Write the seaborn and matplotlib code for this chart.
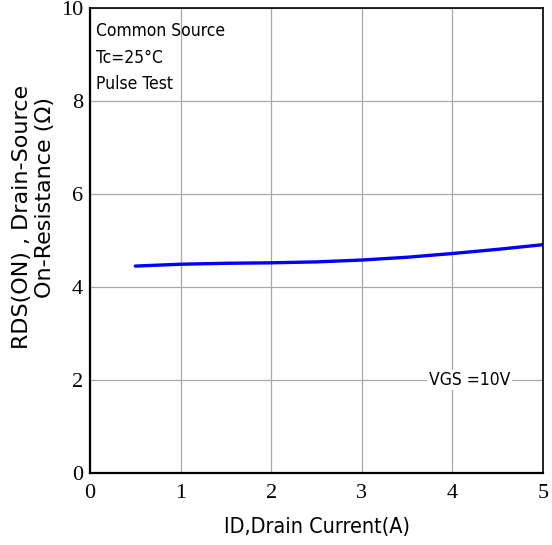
import matplotlib
matplotlib.use("Agg")
import matplotlib.pyplot as plt
import seaborn as sns
import pandas as pd

# drain current (A) and on-resistance (ohm)
drain_current = [0.5, 1.0, 1.5, 2.0, 2.5, 3.0, 3.5, 4.0, 4.5, 5.0]
rds_on = [4.45, 4.49, 4.51, 4.52, 4.54, 4.58, 4.64, 4.72, 4.81, 4.91]
x_ticks = [0, 1, 2, 3, 4, 5]
y_ticks = [0, 2, 4, 6, 8, 10]

df = pd.DataFrame({"ID": drain_current, "RDS": rds_on})

sns.set_style("white")
plt.rcParams['font.family'] = ['DejaVu Sans']
plt.rcParams['font.stretch'] = 'condensed'
plt.rcParams['text.color'] = 'black'
plt.rcParams['axes.labelcolor'] = 'black'
plt.rcParams['xtick.color'] = 'black'
plt.rcParams['ytick.color'] = 'black'

fig = plt.figure(figsize=(5.52, 5.45), dpi=100)
ax = fig.add_axes([90 / 552, 72 / 545, 453 / 552, 465 / 545])

sns.lineplot(data=df, x="ID", y="RDS", ax=ax, color="#0000ff", linewidth=2.4)

ax.set_xlim(0, 5)
ax.set_ylim(0, 10)
ax.set_xticks(x_ticks)
ax.set_yticks(y_ticks)
ax.set_xticklabels([str(t) for t in x_ticks], family="Liberation Serif", fontsize=16)
ax.set_yticklabels([str(t) for t in y_ticks], family="Liberation Serif", fontsize=16)
ax.tick_params(axis="x", length=0, pad=8)
ax.tick_params(axis="y", length=0, pad=5)
ax.grid(True, color="#a8a8a8", linewidth=0.9)

for side in ["left", "bottom"]:
    ax.spines[side].set_linewidth(1.6)
for side in ["top", "right"]:
    ax.spines[side].set_linewidth(1.2)
for s in ax.spines.values():
    s.set_color("black")

ax.set_xlabel("ID,Drain Current(A)", fontsize=15.5, labelpad=10)
ax.set_ylabel("")

# two-line y label, drawn line by line like the original
fig.text(22 / 552, 1 - 217 / 545, "RDS(ON) , Drain-Source", rotation=90,
         fontsize=16, fontstretch="normal", ha="center", va="center")
fig.text(45 / 552, 1 - 198 / 545, "On-Resistance (Ω)", rotation=90,
         fontsize=16, fontstretch="normal", ha="center", va="center")

ax.text(0.07, 9.7, "Common Source\nTc=25°C\nPulse Test", fontsize=12.5,
        va="top", ha="left", linespacing=1.62)
ax.text(3.74, 2.0, "VGS =10V", fontsize=12.5, va="center", ha="left",
        bbox=dict(facecolor="white", edgecolor="none", pad=1))

fig.savefig("out.png", dpi=100)
